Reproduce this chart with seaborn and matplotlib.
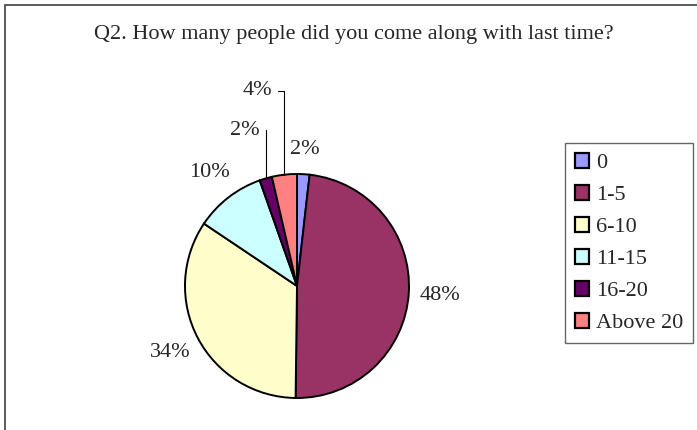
import numpy as np
import matplotlib
matplotlib.use("Agg")
import matplotlib.pyplot as plt
import seaborn as sns
from matplotlib.patches import Rectangle

# datos (porcentajes)
categorias = ["0", "1-5", "6-10", "11-15", "16-20", "Above 20"]
valores = [1.8, 48.4, 34.2, 10.2, 1.8, 3.6]
colores = ["#9999FF", "#993366", "#FFFFCC", "#CCFFFF", "#660066", "#FF8080"]
titulo = "Q2. How many people did you come along with last time?"

sns.set_theme(style="white")
plt.rcParams["font.family"] = ["Liberation Serif", "DejaVu Serif"]
paleta = sns.color_palette(colores)

W, H = 697, 430
fig = plt.figure(figsize=(W / 100, H / 100), dpi=100)
fig.patch.set_facecolor("white")

# marco exterior (cortado a la derecha y abajo)
fig.patches.append(Rectangle((5 / W, -0.1), 1.2, 1 - 5 / H + 0.1,
                             transform=fig.transFigure, fill=False,
                             edgecolor="#404040", linewidth=1.2))

fig.text(354 / W, 1 - 34 / H, titulo, ha="center", va="center", fontsize=16)

# ejes del pastel: centro (297, 286) px, radio 112 px
r_px = 112
lim = 1.25
lado = 2 * lim * r_px
ax = fig.add_axes([(297 - lado / 2) / W, (H - 286 - lado / 2) / H, lado / W, lado / H])
wedges, _ = ax.pie(valores, colors=paleta, startangle=90, counterclock=False,
                   wedgeprops=dict(edgecolor="black", linewidth=1.4))
ax.set_xlim(-lim, lim)
ax.set_ylim(-lim, lim)
ax.set_aspect("equal")
ax.axis("off")

total = sum(valores)
# etiquetas con linea guia para las porciones pequeñas (offset en px)
guias = {"16-20": (-21, 48), "Above 20": (-27, 84)}
for w, cat, v in zip(wedges, categorias, valores):
    ang = np.deg2rad((w.theta1 + w.theta2) / 2)
    txt = f"{v / total * 100:.0f}%"
    if cat in guias:
        ax.annotate(txt, xy=(np.cos(ang), np.sin(ang)), xytext=guias[cat],
                    textcoords="offset pixels", ha="center", va="center", fontsize=16,
                    arrowprops=dict(arrowstyle="-", color="black", lw=0.8,
                                    relpos=(1, 0.5), shrinkA=2, shrinkB=0,
                                    connectionstyle="angle,angleA=0,angleB=90,rad=0"))
    else:
        d = 1.22 if cat == "0" else 1.28
        ax.text(d * np.cos(ang), d * np.sin(ang), txt,
                ha="center", va="center", fontsize=16)

leg = fig.legend(wedges, categorias, loc="upper left",
                 bbox_to_anchor=(565 / W, 1 - 143 / H), borderaxespad=0,
                 fontsize=16, frameon=True, fancybox=False, shadow=False,
                 handlelength=0.65, handleheight=0.65, handletextpad=0.3,
                 labelspacing=0.53, borderpad=0.45)
leg.get_frame().set_edgecolor("#404040")
leg.get_frame().set_linewidth(1.0)
for h in leg.legend_handles:
    h.set_linewidth(1.6)

fig.savefig("out.png", dpi=100)
